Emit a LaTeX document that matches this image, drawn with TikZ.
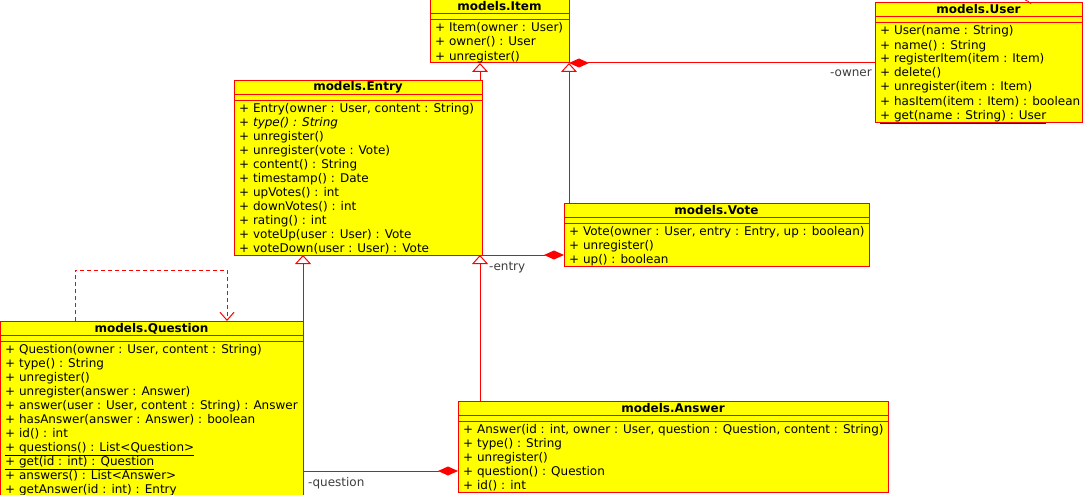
\documentclass[tikz,border=0pt]{standalone}
\usepackage{fontspec}
\setmainfont{DejaVu Sans}
\usetikzlibrary{arrows.meta,calc}
\definecolor{umlred}{HTML}{FF0000}
\definecolor{umlyellow}{HTML}{FFFF00}
\definecolor{lblgray}{HTML}{3C3C3C}
\tikzset{
  cls/.style={draw=umlred, fill=umlyellow, line width=1pt, inner sep=0pt, outer sep=0pt, anchor=north west, rectangle},
  sepline/.style={draw=umlred, line width=1pt},
  ttl/.style={font=\fontsize{12}{14}\selectfont\bfseries, inner sep=0pt, anchor=base},
  opn/.style={font=\fontsize{12}{14}\selectfont, inner sep=0pt, anchor=base west},
  lbl/.style={font=\fontsize{12}{14}\selectfont, text=lblgray, inner sep=0pt},
  conn/.style={draw=umlred, line width=1pt},
  gen/.style={conn, -{Triangle[open, length=9pt, width=16pt, fill=white]}},
  comp/.style={conn, -{Diamond[length=20pt, width=9pt, fill=umlred]}},
  dep/.style={conn, dash pattern=on 4pt off 3pt, -{Straight Barb[length=8pt, width=14pt]}},
}
% name, x, top, width, number of ops, title
\newcommand{\umlbox}[6]{%
  \pgfmathsetmacro\umlbh{21+14*#5}%
  \node[cls, minimum width=#4pt, minimum height=\umlbh pt] (#1) at (#2,#3) {};
  \draw[sepline] (#2,#3+14) -- ++(#4,0);
  \draw[sepline] (#2,#3+20) -- ++(#4,0);
  \node[ttl] (#1-title) at (#2+#4/2,#3+11) {#6};
}
% name, x, top, list of ops
\newcommand{\umlops}[4]{%
  \foreach \t [count=\i from 0] in {#4} {\node[opn] (#1-op\i) at (#2+5,#3+32+14*\i) {\t};}
}
\begin{document}
\begin{tikzpicture}[x=1pt,y=-1pt]
\useasboundingbox (0,0) rectangle (1084,495);
\clip (0,0) rectangle (1084,495);

\umlbox{item}{430}{0}{139}{3}{models.Item}
\umlops{item}{430}{0}{{+ Item(owner : User)},{+ owner() : User},{+ unregister()}}

\umlbox{user}{875}{3}{207}{7}{models.User}
\umlops{user}{875}{3}{{+ User(name : String)},{+ name() : String},{+ registerItem(item : Item)},{+ delete()},{+ unregister(item : Item)},{+ hasItem(item : Item) : boolean},{\underline{+ get(name : String) : User}}}

\umlbox{entry}{234}{80}{248}{11}{models.Entry}
\umlops{entry}{234}{80}{{+ Entry(owner : User, content : String)},{+ \textit{type() : String}},{+ unregister()},{+ unregister(vote : Vote)},{+ content() : String},{+ timestamp() : Date},{+ upVotes() : int},{+ downVotes() : int},{+ rating() : int},{+ voteUp(user : User) : Vote},{+ voteDown(user : User) : Vote}}

\umlbox{vote}{564}{203}{305}{3}{models.Vote}
\umlops{vote}{564}{203}{{+ Vote(owner : User, entry : Entry, up : boolean)},{+ unregister()},{+ up() : boolean}}

\umlbox{question}{0}{321}{303}{11}{models.Question}
\umlops{question}{0}{321}{{+ Question(owner : User, content : String)},{+ type() : String},{+ unregister()},{+ unregister(answer : Answer)},{+ answer(user : User, content : String) : Answer},{+ hasAnswer(answer : Answer) : boolean},{+ id() : int},{\underline{+ questions() : List<Question>}},{\underline{+ get(id : int) : Question}},{+ answers() : List<Answer>},{+ getAnswer(id : int) : Entry}}

\umlbox{answer}{458}{401}{430}{5}{models.Answer}
\umlops{answer}{458}{401}{{+ Answer(id : int, owner : User, question : Question, content : String)},{+ type() : String},{+ unregister()},{+ question() : Question},{+ id() : int}}

% generalizations
\draw[gen] ([xshift=-2pt]entry.north east) -- ([xshift=-2pt]entry.north east |- item.south);
\draw[gen] (item.south east |- vote.north) -- (item.south east);
\draw[gen] (question.north east) -- (question.north east |- entry.south);
\draw[gen] ([xshift=-2pt]entry.south east |- answer.north) -- ([xshift=-2pt]entry.south east);

% compositions
\draw[comp] (item.south east -| user.west) -- (item.south east);
\draw[comp] (entry.south east) -- (entry.south east -| vote.west);
\coordinate (qa) at ([yshift=-70pt]answer.north west);
\draw[comp] (qa -| question.east) -- (qa);

% dependency loop
\draw[dep] ([xshift=75pt]question.north west) -- ++(0,-51) -| ([xshift=227pt]question.north west);

% labels
\node[lbl, anchor=base east] (lowner) at (872,77) {-owner};
\node[lbl, anchor=base west] (lentry) at (489,270) {-entry};
\node[lbl, anchor=base west] (lquestion) at (308,486) {-question};

% stray fragment at top right
\draw[conn, line width=0.7pt] (1025,0) .. controls (1028,1) .. (1031,4);
\end{tikzpicture}
\end{document}
